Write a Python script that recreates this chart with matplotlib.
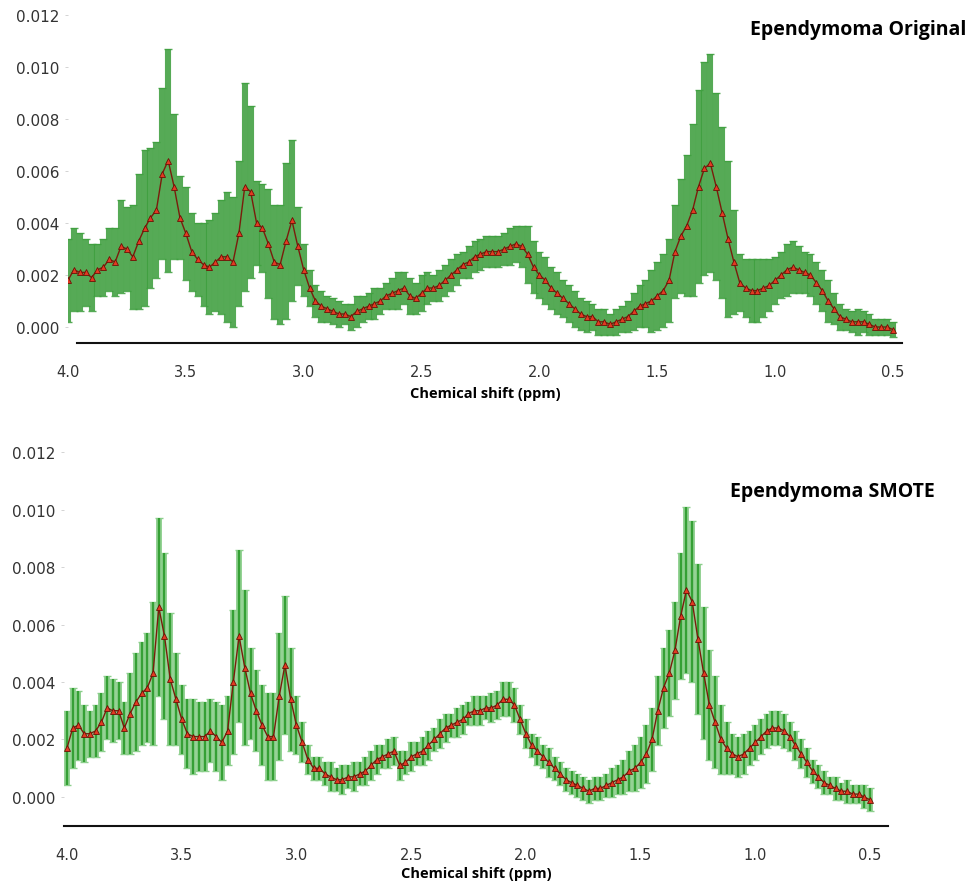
import numpy as np
import matplotlib
matplotlib.use("Agg")
import matplotlib.pyplot as plt

# chemical shift grid, 4.0 -> 0.5 ppm in 0.025 steps
ppm = np.round(np.linspace(4.0, 0.5, 141), 3)

# Ependymoma original: mean spectrum and error half-widths
orig_mean = [
    0.0018, 0.0022, 0.0021, 0.0021, 0.0019, 0.0022, 0.0023, 0.0026, 0.0025, 0.0031,
    0.0030, 0.0027, 0.0033, 0.0038, 0.0042, 0.0045, 0.0059, 0.0064, 0.0054, 0.0042,
    0.0036, 0.0029, 0.0026, 0.0024, 0.0023, 0.0025, 0.0027, 0.0027, 0.0025, 0.0036,
    0.0054, 0.0052, 0.0040, 0.0038, 0.0032, 0.0025, 0.0024, 0.0033, 0.0041, 0.0031,
    0.0022, 0.0015, 0.0010, 0.0008, 0.0007, 0.0006, 0.0005, 0.0005, 0.0004, 0.0006,
    0.0007, 0.0008, 0.0009, 0.0010, 0.0012, 0.0013, 0.0014, 0.0015, 0.0012, 0.0011,
    0.0013, 0.0015, 0.0015, 0.0016, 0.0018, 0.0020, 0.0022, 0.0024, 0.0025, 0.0027,
    0.0028, 0.0029, 0.0029, 0.0029, 0.0030, 0.0031, 0.0032, 0.0031, 0.0028, 0.0023,
    0.0020, 0.0018, 0.0015, 0.0013, 0.0011, 0.0009, 0.0007, 0.0005, 0.0004, 0.0004,
    0.0002, 0.0002, 0.0001, 0.0002, 0.0003, 0.0004, 0.0006, 0.0008, 0.0009, 0.0010,
    0.0012, 0.0014, 0.0018, 0.0029, 0.0035, 0.0039, 0.0045, 0.0054, 0.0061, 0.0063,
    0.0054, 0.0044, 0.0034, 0.0025, 0.0017, 0.0015, 0.0014, 0.0014, 0.0015, 0.0016,
    0.0018, 0.0020, 0.0022, 0.0023, 0.0022, 0.0021, 0.0020, 0.0017, 0.0014, 0.0010,
    0.0007, 0.0004, 0.0003, 0.0002, 0.0002, 0.0002, 0.0001, 0.0000, 0.0000, 0.0000,
    -0.0001,
]
orig_err = [
    0.0016, 0.0016, 0.0015, 0.0013, 0.0013, 0.0010, 0.0011, 0.0012, 0.0013, 0.0018,
    0.0016, 0.0020, 0.0026, 0.0030, 0.0027, 0.0026, 0.0033, 0.0043, 0.0028, 0.0016,
    0.0018, 0.0015, 0.0014, 0.0016, 0.0018, 0.0019, 0.0022, 0.0025, 0.0025, 0.0028,
    0.0040, 0.0033, 0.0016, 0.0017, 0.0021, 0.0022, 0.0023, 0.0030, 0.0031, 0.0015,
    0.0010, 0.0007, 0.0006, 0.0006, 0.0005, 0.0005, 0.0005, 0.0004, 0.0005, 0.0006,
    0.0005, 0.0005, 0.0006, 0.0005, 0.0005, 0.0006, 0.0007, 0.0006, 0.0007, 0.0006,
    0.0007, 0.0006, 0.0005, 0.0006, 0.0006, 0.0006, 0.0006, 0.0005, 0.0006, 0.0006,
    0.0006, 0.0006, 0.0006, 0.0006, 0.0006, 0.0007, 0.0007, 0.0008, 0.0011, 0.0010,
    0.0009, 0.0009, 0.0008, 0.0008, 0.0007, 0.0007, 0.0007, 0.0006, 0.0006, 0.0005,
    0.0005, 0.0005, 0.0004, 0.0005, 0.0005, 0.0006, 0.0007, 0.0008, 0.0009, 0.0012,
    0.0013, 0.0014, 0.0016, 0.0018, 0.0022, 0.0027, 0.0033, 0.0037, 0.0041, 0.0042,
    0.0036, 0.0033, 0.0030, 0.0020, 0.0011, 0.0011, 0.0012, 0.0012, 0.0011, 0.0010,
    0.0009, 0.0009, 0.0010, 0.0010, 0.0009, 0.0008, 0.0008, 0.0008, 0.0008, 0.0008,
    0.0006, 0.0005, 0.0004, 0.0004, 0.0005, 0.0004, 0.0004, 0.0003, 0.0003, 0.0003,
    0.0003,
]

# Ependymoma after SMOTE
smote_mean = [
    0.0017, 0.0024, 0.0025, 0.0022, 0.0022, 0.0023, 0.0026, 0.0031, 0.0030, 0.0030,
    0.0024, 0.0029, 0.0033, 0.0036, 0.0038, 0.0043, 0.0066, 0.0056, 0.0041, 0.0034,
    0.0027, 0.0022, 0.0021, 0.0021, 0.0021, 0.0023, 0.0021, 0.0019, 0.0023, 0.0040,
    0.0056, 0.0045, 0.0036, 0.0030, 0.0025, 0.0021, 0.0021, 0.0035, 0.0046, 0.0034,
    0.0025, 0.0019, 0.0013, 0.0010, 0.0010, 0.0008, 0.0007, 0.0006, 0.0006, 0.0007,
    0.0007, 0.0008, 0.0009, 0.0011, 0.0013, 0.0014, 0.0015, 0.0016, 0.0011, 0.0012,
    0.0014, 0.0015, 0.0016, 0.0018, 0.0020, 0.0022, 0.0024, 0.0025, 0.0026, 0.0027,
    0.0029, 0.0030, 0.0030, 0.0031, 0.0031, 0.0032, 0.0034, 0.0034, 0.0032, 0.0027,
    0.0022, 0.0018, 0.0016, 0.0014, 0.0012, 0.0010, 0.0008, 0.0006, 0.0005, 0.0004,
    0.0003, 0.0002, 0.0003, 0.0003, 0.0004, 0.0005, 0.0006, 0.0007, 0.0009, 0.0010,
    0.0012, 0.0015, 0.0020, 0.0030, 0.0038, 0.0043, 0.0051, 0.0063, 0.0072, 0.0068,
    0.0055, 0.0043, 0.0032, 0.0026, 0.0020, 0.0017, 0.0015, 0.0014, 0.0015, 0.0017,
    0.0019, 0.0021, 0.0023, 0.0024, 0.0024, 0.0023, 0.0021, 0.0018, 0.0015, 0.0012,
    0.0009, 0.0007, 0.0005, 0.0004, 0.0003, 0.0002, 0.0002, 0.0001, 0.0001, 0.0000,
    -0.0001,
]
smote_err = [
    0.0013, 0.0014, 0.0012, 0.0010, 0.0008, 0.0009, 0.0010, 0.0011, 0.0011, 0.0010,
    0.0009, 0.0014, 0.0017, 0.0018, 0.0019, 0.0025, 0.0031, 0.0029, 0.0023, 0.0016,
    0.0012, 0.0012, 0.0013, 0.0012, 0.0012, 0.0011, 0.0012, 0.0013, 0.0012, 0.0025,
    0.0030, 0.0027, 0.0016, 0.0014, 0.0014, 0.0015, 0.0015, 0.0022, 0.0024, 0.0018,
    0.0010, 0.0007, 0.0005, 0.0004, 0.0004, 0.0004, 0.0005, 0.0004, 0.0005, 0.0004,
    0.0005, 0.0004, 0.0005, 0.0005, 0.0005, 0.0004, 0.0005, 0.0005, 0.0005, 0.0004,
    0.0005, 0.0004, 0.0005, 0.0005, 0.0004, 0.0005, 0.0005, 0.0004, 0.0005, 0.0005,
    0.0004, 0.0005, 0.0005, 0.0004, 0.0005, 0.0005, 0.0006, 0.0006, 0.0006, 0.0005,
    0.0005, 0.0004, 0.0005, 0.0004, 0.0005, 0.0004, 0.0004, 0.0004, 0.0004, 0.0004,
    0.0004, 0.0004, 0.0004, 0.0004, 0.0004, 0.0005, 0.0005, 0.0006, 0.0007, 0.0008,
    0.0009, 0.0010, 0.0011, 0.0012, 0.0014, 0.0015, 0.0017, 0.0022, 0.0029, 0.0028,
    0.0026, 0.0023, 0.0019, 0.0016, 0.0012, 0.0009, 0.0007, 0.0007, 0.0007, 0.0006,
    0.0006, 0.0006, 0.0006, 0.0006, 0.0006, 0.0006, 0.0005, 0.0005, 0.0005, 0.0005,
    0.0004, 0.0004, 0.0004, 0.0003, 0.0004, 0.0003, 0.0004, 0.0003, 0.0003, 0.0004,
    0.0004,
]

titles = ["Ependymoma Original", "Ependymoma SMOTE"]
yticks = [0.000, 0.002, 0.004, 0.006, 0.008, 0.010, 0.012]
xticks = [4.0, 3.5, 3.0, 2.5, 2.0, 1.5, 1.0, 0.5]

fig = plt.figure(figsize=(9.72, 8.87), dpi=100)

# axes placed in pixels so the two panels line up with the original figure
W, H = 972, 887
ax1 = fig.add_axes([68 / W, 1 - 344 / H, 834 / W, 334 / H])
ax2 = fig.add_axes([64 / W, 1 - 827 / H, 824 / W, 382 / H])

panels = [
    (ax1, orig_mean, orig_err, (4.0, 0.4618), (-0.000615, 0.01223), (3.962, 0.4618), 5),
    (ax2, smote_mean, smote_err, (4.013, 0.4215), (-0.00101, 0.01228), (4.013, 0.4215), 3),
]

for k, (ax, mean, err, xl, yl, bounds, lbpad) in enumerate(panels):
    if k == 0:
        # dense, almost solid band
        ax.errorbar(ppm, mean, yerr=err, fmt="none", ecolor="#3f9f3f", elinewidth=4.4,
                    alpha=0.88, capsize=3, capthick=1)
    else:
        # striped band: pale wide bars with darker thin bars on top
        ax.errorbar(ppm, mean, yerr=err, fmt="none", ecolor="#8ccf8c", elinewidth=4.2,
                    capsize=3, capthick=1)
        ax.errorbar(ppm, mean, yerr=err, fmt="none", ecolor="#35a035", elinewidth=1.6)
    ax.plot(ppm, mean, "-", color="#7a1c0c", lw=1.0, zorder=3)
    ax.plot(ppm, mean, "^", color="#e33a22", markeredgecolor="#6b1206",
            markeredgewidth=0.6, markersize=5, zorder=4)

    ax.set_xlim(*xl)
    ax.set_ylim(*yl)
    ax.set_xticks(xticks)
    ax.set_xticklabels([f"{t:.1f}" for t in xticks])
    ax.set_yticks(yticks)
    ax.set_yticklabels([f"{t:.3f}" for t in yticks])

    for s in ["top", "right", "left"]:
        ax.spines[s].set_visible(False)
    ax.spines["bottom"].set_color("#111111")
    ax.spines["bottom"].set_linewidth(1.5)
    ax.spines["bottom"].set_bounds(*bounds)

    ax.tick_params(axis="y", length=2, width=0.6, color="#cccccc", pad=4,
                   labelsize=11, labelcolor="#333333")
    ax.tick_params(axis="x", length=0, pad=15, labelsize=10.5, labelcolor="#333333")
    ax.set_xlabel("Chemical shift (ppm)", fontsize=10.5, fontweight="bold",
                  family="Open Sans", labelpad=lbpad)

fig.text(858 / W, 1 - 30 / H, titles[0], ha="center", va="center",
         fontsize=14, fontweight="bold", family="Open Sans")
fig.text(832 / W, 1 - 492 / H, titles[1], ha="center", va="center",
         fontsize=14, fontweight="bold", family="Open Sans")

fig.savefig("out.png", dpi=100)
